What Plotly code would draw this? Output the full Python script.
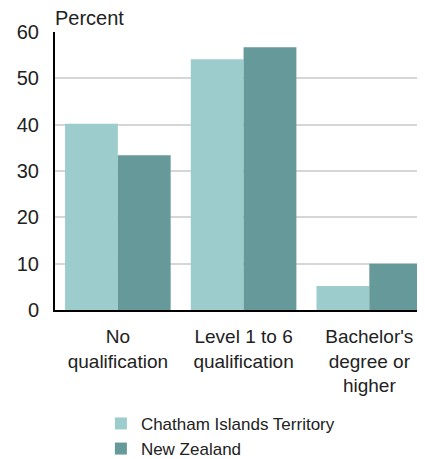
import plotly.graph_objects as go

categories = ["No<br>qualification", "Level 1 to 6<br>qualification", "Bachelor's<br>degree or<br>higher"]
chatham = [40.2, 54.1, 5.2]
nz = [33.4, 56.7, 10.0]
series_names = ["Chatham Islands Territory", "New Zealand"]
y_ticks = [0, 10, 20, 30, 40, 50, 60]

FONT = "Liberation Sans, Arial, sans-serif"
x_idx = list(range(len(categories)))

fig = go.Figure()
fig.add_trace(go.Bar(x=x_idx, y=chatham, name=series_names[0], marker_color="#9CCCCC", marker_line_width=0))
fig.add_trace(go.Bar(x=x_idx, y=nz, name=series_names[1], marker_color="#669999", marker_line_width=0))

# page body adds an 8px offset, so the figure is sized to the remaining window area
fig.update_layout(
    width=417, height=451,
    margin=dict(l=47, r=0, t=24, b=149, autoexpand=False),
    barmode="group", bargap=0.16, bargroupgap=0,
    plot_bgcolor="white", paper_bgcolor="white",
    font=dict(family=FONT, size=19, color="#222222"),
    showlegend=True,
    legend=dict(x=0.124, y=-0.345, xanchor="left", yanchor="top", orientation="v",
                font=dict(size=17, color="#222222"), itemwidth=30, tracegroupgap=0,
                bgcolor="rgba(0,0,0,0)", borderwidth=0),
    annotations=[dict(text="Percent", xref="paper", yref="paper", x=0, y=1, xanchor="left",
                      yanchor="middle", yshift=14, xshift=-2, showarrow=False,
                      font=dict(size=20, color="#222222"))],
)
fig.update_xaxes(
    tickmode="array", tickvals=x_idx, ticktext=categories, range=[-0.5, 2.443],
    showline=True, linecolor="black", linewidth=2, showgrid=False, automargin=False,
    ticks="", ticklabelstandoff=8, tickfont=dict(size=19),
)
fig.update_yaxes(
    range=[0, 60], tickvals=y_ticks, showline=True, linecolor="black", linewidth=2,
    showgrid=True, gridcolor="#D6D6D6", gridwidth=2, ticks="", ticklabelstandoff=10,
    zeroline=False, tickfont=dict(size=20), automargin=False,
)
fig.write_html("out.html")
